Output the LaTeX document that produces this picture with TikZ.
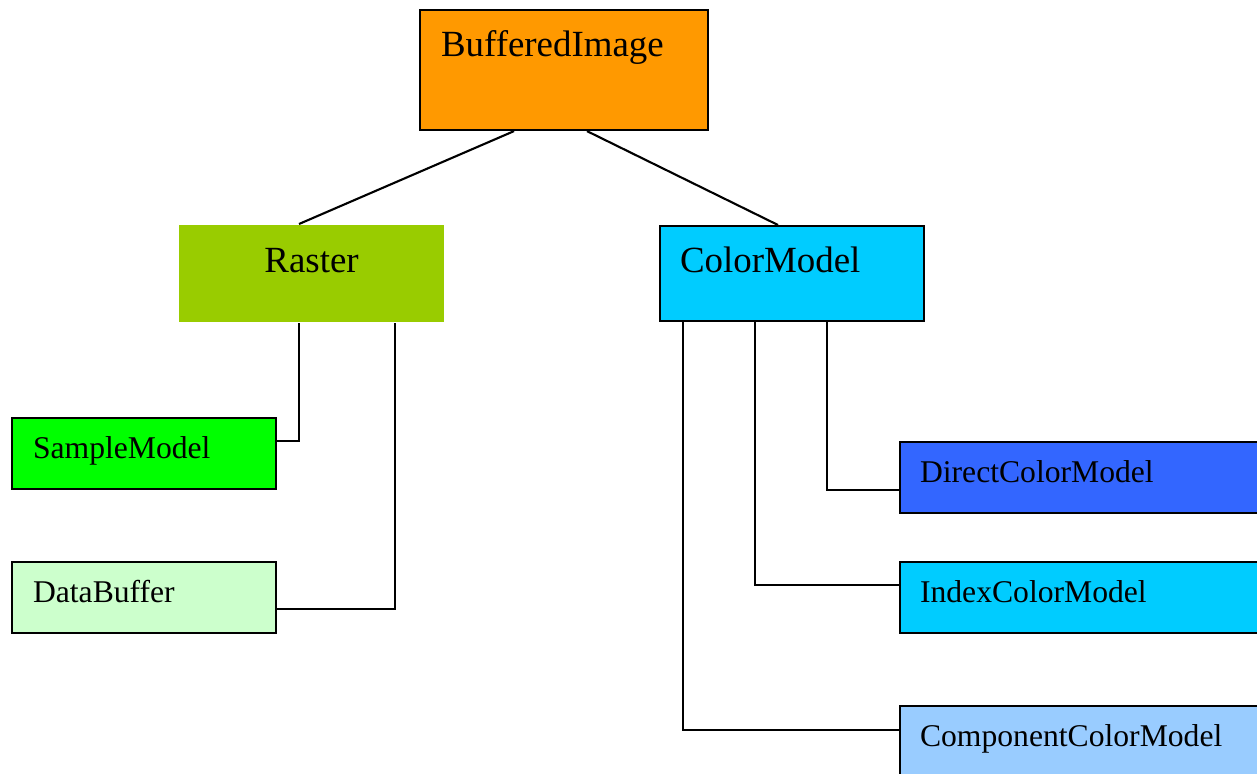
\documentclass[tikz,border=0pt]{standalone}
\usepackage{fontspec}
\setmainfont{Liberation Serif}
\definecolor{imgorange}{HTML}{FF9900}
\definecolor{rastergreen}{HTML}{99CC00}
\definecolor{modelcyan}{HTML}{00CCFF}
\definecolor{samplegreen}{HTML}{00FF00}
\definecolor{bufgreen}{HTML}{CCFFCC}
\definecolor{directblue}{HTML}{3366FF}
\definecolor{compblue}{HTML}{99CCFF}
\tikzset{
  cls/.style={draw, line width=0.6pt, anchor=north west, inner xsep=0.2cm,
    inner ysep=0pt, align=left},
  bigcls/.style={cls, font=\fontsize{10.5}{12}\selectfont,
    text height=0.46cm, text depth=0.49cm, text width=2.24cm},
  smallcls/.style={cls, font=\fontsize{9}{11}\selectfont,
    text height=0.40cm, text depth=0.31cm, text width=2.24cm},
  link/.style={line width=0.6pt}
}
\begin{document}
\begin{tikzpicture}
  \useasboundingbox (0,0) rectangle (12.57,-7.73);
  \clip (0,0) rectangle (12.57,-7.73);
  % Draw top class
  \node[bigcls, fill=imgorange, inner xsep=0.21cm, text width=2.46cm,
        text depth=0.74cm] (img) at (4.19,-0.09) {BufferedImage};
  % Draw second level
  \node[bigcls, fill=rastergreen, draw=none, align=center, text width=2.25cm,
        text height=0.47cm, text depth=0.50cm] (raster) at (1.78,-2.24) {Raster};
  \node[bigcls, fill=modelcyan] (cmodel) at (6.59,-2.25) {ColorModel};
  % Draw raster parts
  \node[smallcls, fill=samplegreen, inner xsep=0.21cm, text width=2.22cm]
        (sample) at (0.11,-4.17) {SampleModel};
  \node[smallcls, fill=bufgreen, inner xsep=0.21cm, text width=2.22cm]
        (databuf) at (0.11,-5.61) {DataBuffer};
  % Draw color models (cut at the right edge)
  \node[smallcls, fill=directblue, text width=3.6cm]
        (direct) at (8.99,-4.41) {DirectColorModel};
  \node[smallcls, fill=modelcyan, text width=3.6cm]
        (index) at (8.99,-5.61) {IndexColorModel};
  \node[smallcls, fill=compblue, text width=3.6cm]
        (comp) at (8.99,-7.05) {ComponentColorModel};
  % Draw links
  \draw[link] ([xshift=0.95cm]img.south west) -- ([xshift=1.21cm]raster.north west);
  \draw[link] ([xshift=1.68cm]img.south west) -- ([xshift=1.19cm]cmodel.north west);
  \draw[link] ([xshift=1.21cm]raster.south west) |- ([yshift=0.13cm]sample.east);
  \draw[link] ([xshift=2.17cm]raster.south west) |- ([yshift=-0.115cm]databuf.east);
  \draw[link] ([xshift=1.68cm]cmodel.south west) |- ([yshift=-0.125cm]direct.west);
  \draw[link] ([xshift=0.96cm]cmodel.south west) |- ([yshift=0.125cm]index.west);
  \draw[link] ([xshift=0.24cm]cmodel.south west) |- ([yshift=0.115cm]comp.west);
\end{tikzpicture}
\end{document}
